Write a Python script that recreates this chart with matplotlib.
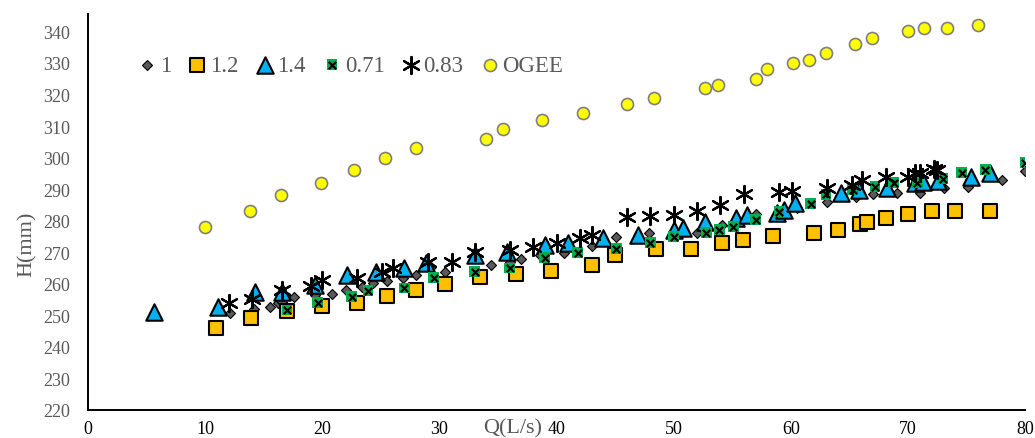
"""Head over crest H(mm) against discharge Q(L/s) for five weir ratios and an OGEE crest."""
import matplotlib
matplotlib.use("Agg")
import matplotlib.pyplot as plt

plt.rcParams["font.family"] = ["Liberation Serif", "DejaVu Serif"]

# --- data ------------------------------------------------------------------
q_1 = [12.1, 14.2, 15.5, 16.2, 16.6, 17.6, 19.4, 20.8, 22.0, 23.4, 24.3, 25.5, 26.9,
       28.0, 29.3, 30.5, 34.4, 36.0, 37.0, 38.6, 40.6, 43.0, 45.1, 47.9, 52.0, 54.1,
       57.0, 60.5, 63.1, 65.6, 67.0, 69.1, 71.0, 73.1, 75.1, 78.0, 80.0]
h_1 = [250.8, 252.0, 252.7, 253.9, 254.3, 255.9, 256.5, 256.8, 258.1, 259.0, 260.3,
       261.0, 261.9, 262.9, 265.4, 263.8, 266.0, 267.0, 267.9, 269.2, 269.8, 272.0,
       274.9, 276.2, 276.2, 278.7, 282.2, 284.1, 286.0, 287.6, 288.3, 288.9, 288.9,
       290.2, 290.8, 293.0, 295.9]

q_12 = [10.9, 13.9, 17.0, 20.0, 23.0, 25.5, 28.0, 30.5, 33.5, 36.5, 39.5, 43.0, 45.0,
        48.5, 51.5, 54.1, 55.9, 58.5, 62.0, 64.0, 65.9, 66.5, 68.1, 70.0, 72.1, 74.0, 77.0]
h_12 = [246, 249, 251.5, 253, 254, 256, 258, 260, 262, 263, 264, 266, 269,
        271, 271, 273, 274, 275, 276, 277, 279, 279.5, 281, 282, 283, 283, 283]

q_14 = [5.6, 11.1, 14.3, 16.6, 19.4, 22.1, 24.6, 27.0, 28.9, 33.0, 35.8, 39.0, 41.0,
        44.0, 47.0, 50.0, 50.8, 52.7, 55.3, 56.3, 58.8, 59.4, 60.4, 64.3, 65.8, 68.2,
        70.6, 71.3, 72.6, 75.4, 77.0]
h_14 = [251, 252.5, 257.5, 257.5, 259.7, 262.9, 263.8, 265.1, 266.7, 269.2, 270.2,
        272.4, 273.0, 274.6, 275.6, 277.1, 277.8, 279.7, 281.0, 281.9, 282.5, 283.5,
        285.7, 288.9, 289.8, 290.5, 292.0, 292.4, 292.7, 293.7, 295.0]

q_071 = [17.0, 19.6, 22.5, 23.9, 27.0, 29.5, 33.0, 36.0, 39.0, 41.8, 45.1, 48.0, 50.0,
         52.8, 53.9, 55.1, 57.0, 59.0, 61.7, 63.0, 65.3, 67.2, 68.8, 70.8, 73.0, 74.6,
         76.6, 80.0]
h_071 = [251.7, 254.0, 255.9, 257.8, 258.7, 261.9, 263.8, 265.0, 268.3, 269.8, 271.1,
         273.0, 274.9, 276.2, 277.1, 278.1, 280.3, 282.9, 285.4, 288.3, 289.8, 290.8,
         292.0, 292.0, 293.3, 295.2, 296.2, 298.4]

q_083 = [12.0, 14.0, 16.6, 19.0, 20.0, 23.0, 25.1, 26.0, 29.0, 31.1, 33.0, 36.0, 38.0,
         40.0, 42.0, 43.0, 46.0, 48.0, 50.0, 52.0, 54.0, 56.0, 59.0, 60.1, 63.1, 65.2,
         66.1, 68.1, 70.0, 70.6, 71.0, 72.2, 72.5]
h_083 = [254.0, 255.2, 258.1, 259.4, 261.3, 261.9, 263.8, 265.1, 267.0, 267.0, 270.2,
         270.8, 271.7, 273.0, 274.6, 275.6, 281.3, 281.6, 281.9, 283.2, 285.1, 288.3,
         289.2, 289.5, 290.5, 291.4, 293.0, 294.0, 294.0, 295.2, 295.2, 296.5, 296.2]

q_ogee = [10.0, 13.8, 16.5, 19.9, 22.7, 25.4, 28.0, 34.0, 35.4, 38.8, 42.3, 46.0, 48.3,
          52.7, 53.8, 57.0, 58.0, 60.2, 61.6, 63.0, 65.5, 66.9, 70.0, 71.4, 73.3, 76.0]
h_ogee = [278, 283, 288, 292, 296, 300, 303, 306, 309, 312, 314, 317, 319,
          322, 323, 325, 328, 330, 331, 333, 336, 338, 340, 341, 341, 342]

GREY = "#595959"

fig = plt.figure(figsize=(10.35, 4.39), dpi=100)
ax = fig.add_axes([88 / 1035, 1 - 411 / 439, 937 / 1035, 396 / 439])

h1 = ax.scatter(q_1, h_1, marker="D", s=26, facecolor=GREY, edgecolor="black",
                linewidth=0.8, zorder=3)
h12 = ax.scatter(q_12, h_12, marker="s", s=95, facecolor="#FFC000", edgecolor="black",
                 linewidth=1.5, zorder=3)
h14 = ax.scatter(q_14, h_14, marker="^", s=140, facecolor="#00B0F0", edgecolor="black",
                 linewidth=1.5, zorder=3)
h071a = ax.scatter(q_071, h_071, marker="s", s=60, facecolor="#00B050", edgecolor="none",
                   zorder=4)
h071b = ax.scatter(q_071, h_071, marker="x", s=28, color="black", linewidth=1.6, zorder=4)
h083 = ax.scatter(q_083, h_083, marker=(6, 2, 0), s=150, color="black", linewidth=1.6,
                  zorder=5)
hog = ax.scatter(q_ogee, h_ogee, marker="o", s=75, facecolor="#FFFF00", edgecolor="#7F7F7F",
                 linewidth=1.2, zorder=3)

ax.set_xlim(0, 80)
ax.set_ylim(220, 345.5)
ax.set_xticks(range(0, 81, 10))
ax.set_yticks(range(220, 341, 10))
ax.tick_params(axis="both", length=0, labelsize=13)
ax.tick_params(axis="y", colors=GREY, pad=13)
ax.tick_params(axis="x", colors="black", pad=7)
for side in ("top", "right"):
    ax.spines[side].set_visible(False)
for side in ("left", "bottom"):
    ax.spines[side].set_linewidth(1.4)
    ax.spines[side].set_color("black")

fig.text(27 / 1035, 1 - 244 / 439, "H(mm)", rotation=90, ha="center", va="center",
         fontsize=16, color=GREY)
fig.text(513 / 1035, 1 - 429 / 439, "Q(L/s)", ha="center", va="center",
         fontsize=16, color=GREY)

leg = ax.legend([h1, h12, h14, (h071a, h071b), h083, hog],
                ["1", "1.2", "1.4", "0.71", "0.83", "OGEE"],
                loc="center left", bbox_to_anchor=(43 / 937, 1 - 51 / 396), ncol=6,
                frameon=False, fontsize=16.5, handlelength=0.6, handletextpad=0.25,
                columnspacing=0.85, borderaxespad=0)
for txt in leg.get_texts():
    txt.set_color(GREY)

fig.savefig("out.png", dpi=100)
